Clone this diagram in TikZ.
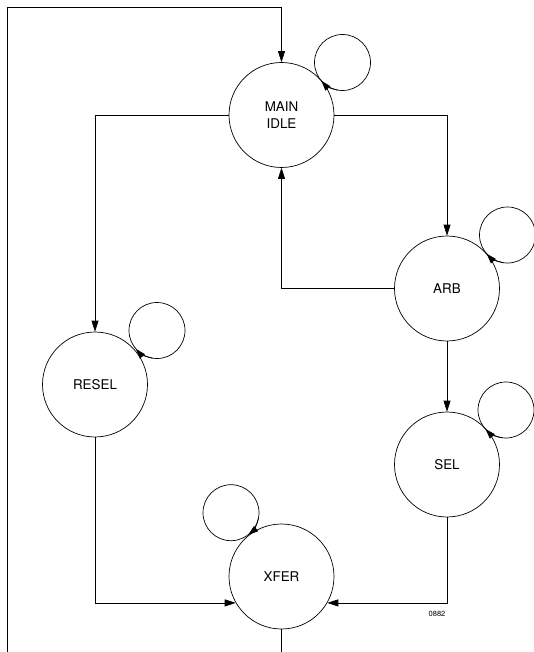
\documentclass[tikz,border=0pt]{standalone}
\usepackage{fontspec}
\setmainfont{TeX Gyre Heros}
\usetikzlibrary{arrows.meta}
\begin{document}
\begin{tikzpicture}[x=1pt,y=1pt,
  stnode/.style={draw, circle, minimum size=105pt, inner sep=0pt, align=center,
    line width=0.7pt, font=\fontsize{13.4}{17.3}\selectfont},
  loopring/.style={draw, circle, minimum size=56pt, inner sep=0pt, line width=0.7pt},
  conn/.style={line width=0.7pt},
  arr/.style={conn, -{Triangle[length=11pt,width=7pt]}},
  larr/.style={conn, -{Triangle[length=10pt,width=6.5pt]}}
]
\useasboundingbox (0,0) rectangle (533,-652);
% states
\node[stnode] (main)  at (281.5,-115)   {MAIN\\IDLE};
\node[stnode] (arb)   at (447,-288.5)   {ARB};
\node[stnode] (resel) at (95,-384.5)    {RESEL};
\node[stnode] (sel)   at (447,-464.5)   {SEL};
\node[stnode] (xfer)  at (281.5,-576.5) {XFER};
% self loops
\node[loopring] (mainloop)  at (342.5,-62.5) {};
\node[loopring] (arbloop)   at (507.5,-235)  {};
\node[loopring] (reselloop) at (157,-330.5)  {};
\node[loopring] (selloop)   at (506,-410)    {};
\node[loopring] (xferloop)  at (231,-512.7)  {};
\draw[larr] (mainloop.center)  ++(261:28) arc[start angle=261, end angle=221, radius=28];
\draw[larr] (arbloop.center)   ++(262:28) arc[start angle=262, end angle=222, radius=28];
\draw[larr] (reselloop.center) ++(261:28) arc[start angle=261, end angle=221, radius=28];
\draw[larr] (selloop.center)   ++(263:28) arc[start angle=263, end angle=223, radius=28];
\draw[larr] (xferloop.center)  ++(348:28) arc[start angle=348, end angle=308, radius=28];
% outer feedback path
\coordinate (tl) at (7.5,-7);
\coordinate (bl) at (7.5,-652);
\coordinate (xb) at (281.5,-652);
\draw[conn] (xfer.south) -- (xb);
\draw[arr] (bl) -- (tl) -| (main.north);
% transitions
\draw[arr] (main.west) -| (resel.north);
\draw[arr] (main.east) -| (arb.north);
\draw[arr] (arb.west) -| (main.south);
\draw[arr] (arb.south) -- (sel.north);
\draw[arr] (resel.south) |- (xfer.210);
\draw[arr] (sel.south) |- (xfer.330);
\node[font=\fontsize{7.5}{9}\selectfont, inner sep=0pt] (code) at (437,-614) {0882};
\end{tikzpicture}
\end{document}
